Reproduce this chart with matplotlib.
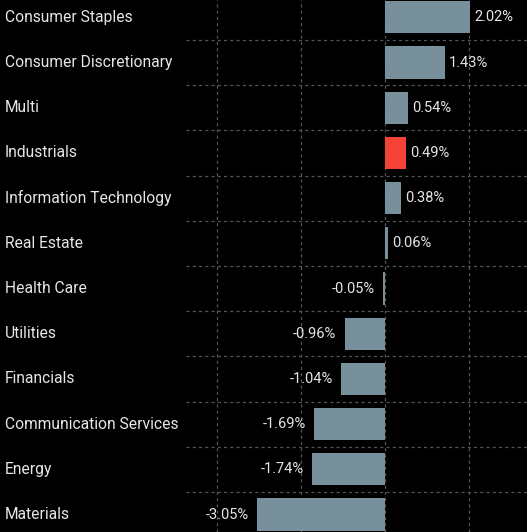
import matplotlib
matplotlib.use("Agg")
import matplotlib.pyplot as plt
from matplotlib.transforms import blended_transform_factory

categories = ["Consumer Staples", "Consumer Discretionary", "Multi", "Industrials",
              "Information Technology", "Real Estate", "Health Care", "Utilities",
              "Financials", "Communication Services", "Energy", "Materials"]
values = [2.02, 1.43, 0.54, 0.49, 0.38, 0.06, -0.05, -0.96, -1.04, -1.69, -1.74, -3.05]
highlight = "Industrials"

BG = "#000000"
BAR = "#78909c"
RED = "#f44336"
TXT = "#e6e6e6"
GRID = "#555555"

plt.rcParams['font.family'] = ['Roboto', 'DejaVu Sans']

fig = plt.figure(figsize=(5.27, 5.32), dpi=100, facecolor=BG)
ax = fig.add_axes([186/527, 0, (527-186)/527, 1])
ax.set_facecolor(BG)

ys = list(range(len(categories)))
colors = [RED if c == highlight else BAR for c in categories]
ax.barh(ys, values, height=0.71, color=colors, zorder=3)

ax.set_xlim(-4.74, 3.38)
ax.set_ylim(11.387, -0.383)

# grid
for x in [-4, -2, 0, 2]:
    ax.axvline(x, color=GRID, lw=0.9, ls=(0, (2.5, 2.5)), zorder=1)
for i in range(len(categories) - 1):
    ax.axhline(i + 0.5, color=GRID, lw=0.9, ls=(0, (2.5, 2.5)), zorder=1)

for s in ax.spines.values():
    s.set_visible(False)
ax.set_xticks([])
ax.set_yticks([])

trans = blended_transform_factory(fig.transFigure, ax.transData)
for y, c in zip(ys, categories):
    ax.text(5/527, y, c, transform=trans, ha='left', va='center',
            color=TXT, fontsize=11.25, clip_on=False)

for y, v in zip(ys, values):
    lab = f"{v:.2f}%"
    if v >= 0:
        ax.annotate(lab, (v, y), xytext=(3, 0), textcoords='offset points',
                    ha='left', va='center', color=TXT, fontsize=10.5)
    else:
        ax.annotate(lab, (v, y), xytext=(-6, 0), textcoords='offset points',
                    ha='right', va='center', color=TXT, fontsize=10.5)

fig.savefig("out.png", dpi=100, facecolor=BG)
